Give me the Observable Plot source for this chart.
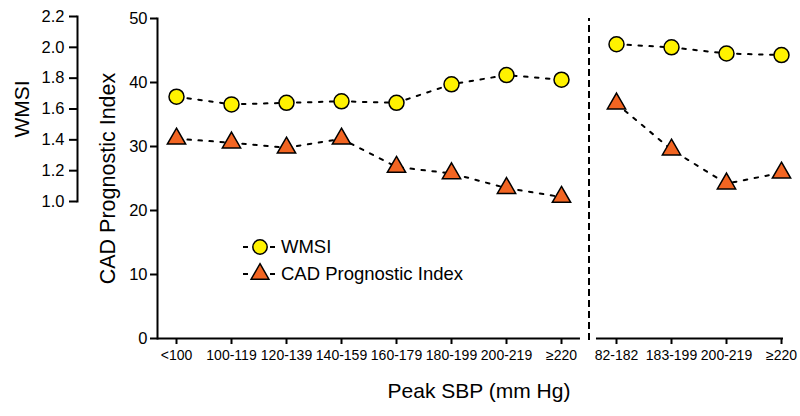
<!DOCTYPE html>
<html>
<head>
<meta charset="utf-8">
<script src="https://cdn.jsdelivr.net/npm/d3@7"></script>
<script src="https://cdn.jsdelivr.net/npm/@observablehq/plot@0.6"></script>
<style>
  html, body { margin: 0; padding: 0; background: #fff; }
  #wrap { position: relative; width: 800px; height: 416px; font-family: "Liberation Sans", Arial, sans-serif; }
  #wrap svg { position: absolute; top: 0; left: 0; }
</style>
</head>
<body>
<div id="wrap"></div>
<script>
// ---- data ----
const categories = ["<100", "100-119", "120-139", "140-159", "160-179", "180-199", "200-219", "≥220",
                    "82-182", "183-199", "200-219", "≥220"];
const panel = [1, 1, 1, 1, 1, 1, 1, 1, 2, 2, 2, 2];
const wmsi = [1.68, 1.63, 1.64, 1.65, 1.64, 1.76, 1.82, 1.79, 2.02, 2.00, 1.96, 1.95];
const cad  = [31.2, 30.6, 29.8, 31.2, 26.8, 25.8, 23.5, 22.1, 36.7, 29.5, 24.2, 25.9];
const cadTicks = [0, 10, 20, 30, 40, 50];
const wmsiTicks = [1.0, 1.2, 1.4, 1.6, 1.8, 2.0, 2.2];
const seriesNames = ["WMSI", "CAD Prognostic Index"];
const xTitle = "Peak SBP (mm Hg)";

const yellow = "#fff200";
const orange = "#f26522";
const font = "Liberation Sans, Arial, sans-serif";

const rows = categories.map((c, i) => ({i, cat: c, panel: panel[i], wmsi: wmsi[i], cad: cad[i]}));
const idx = d3.range(categories.length);
// baseline segments (in category-index units) and panel separator
const baseFrom = [-0.345, 7.636];
const baseTo = [7.345, 11.036];
const separator = [7.5];

const xDomain = [0, categories.length - 1];
const xRange = [176, 781];

// ---- CAD plot (main) ----
const plotA = Plot.plot({
  width: 800, height: 416,
  marginLeft: 157, marginRight: 0, marginTop: 18, marginBottom: 78,
  x: {domain: xDomain, range: xRange, label: null},
  y: {domain: [0, 50], label: null},
  style: {fontFamily: font, fontSize: "16px", background: "transparent", overflow: "visible", color: "#000"},
  marks: [
    Plot.frame({anchor: "left", strokeWidth: 2}),
    Plot.axisY({ticks: cadTicks, tickSize: 7, tickPadding: 3, strokeWidth: 2, label: null}),
    Plot.ruleY([0, 0], {x1: baseFrom, x2: baseTo, strokeWidth: 2}),
    Plot.axisX({ticks: idx, tickFormat: i => categories[i], tickSize: 6, tickPadding: 6, strokeWidth: 2, label: null}),
    Plot.ruleX(separator, {y1: -0.3, y2: 50, strokeWidth: 2, strokeDasharray: "7,4"}),
    Plot.line(rows, {x: "i", y: "cad", z: "panel", stroke: "#000", strokeWidth: 2, strokeDasharray: "3.5,7.5"}),
    Plot.dot(rows, {x: "i", y: "cad", symbol: "triangle", r: 6.8, fill: orange, stroke: "#000", strokeWidth: 1.5}),
    Plot.text([seriesNames[1]], {frameAnchor: "left", textAnchor: "middle", rotate: -90, dx: -49, fontSize: 21.5}),
    Plot.text([xTitle], {frameAnchor: "bottom", textAnchor: "middle", dy: 59, fontSize: 21})
  ]
});

// ---- WMSI plot (overlay, own axis) ----
const plotB = Plot.plot({
  width: 800, height: 416,
  marginLeft: 77, marginRight: 0, marginTop: 16, marginBottom: 215,
  x: {domain: xDomain, range: xRange, axis: null, label: null},
  y: {domain: [1.0, 2.2], label: null},
  style: {fontFamily: font, fontSize: "16px", background: "transparent", overflow: "visible", color: "#000"},
  marks: [
    Plot.frame({anchor: "left", strokeWidth: 2}),
    Plot.axisY({ticks: wmsiTicks, tickFormat: d3.format(".1f"), tickSize: 8, tickPadding: 5, strokeWidth: 2, label: null}),
    Plot.line(rows, {x: "i", y: "wmsi", z: "panel", stroke: "#000", strokeWidth: 2, strokeDasharray: "3.5,7.5"}),
    Plot.dot(rows, {x: "i", y: "wmsi", r: 7.5, fill: yellow, stroke: "#000", strokeWidth: 1.5}),
    Plot.text([seriesNames[0]], {frameAnchor: "left", textAnchor: "middle", rotate: -90, dx: -55, fontSize: 21})
  ]
});

const wrap = document.getElementById("wrap");
wrap.appendChild(plotA);
wrap.appendChild(plotB);

// tick label sizes
d3.selectAll('#wrap g[aria-label="y-axis tick label"]').style("font-size", "16.5px");
d3.selectAll('#wrap g[aria-label="x-axis tick label"]').style("font-size", "14px");

// ---- legend ----
const leg = d3.select(wrap).append("svg")
  .attr("width", 240).attr("height", 60)
  .style("left", "236px").style("top", "232px");
const items = leg.selectAll("g").data(seriesNames).join("g")
  .attr("transform", (d, k) => `translate(24,${15 + k * 27})`);
items.append("line").attr("x1", -17).attr("x2", 15).attr("y1", 0).attr("y2", 0)
  .attr("stroke", "#000").attr("stroke-width", 2).attr("stroke-dasharray", "5,22");
items.each(function(d, k) {
  const g = d3.select(this);
  if (k === 0) {
    g.append("circle").attr("r", 7.2).attr("fill", yellow).attr("stroke", "#000").attr("stroke-width", 1.5);
  } else {
    g.append("path").attr("d", d3.symbol(d3.symbolTriangle, Math.PI * 6.6 * 6.6)()).attr("fill", orange).attr("stroke", "#000").attr("stroke-width", 1.5);
  }
});
items.append("text").attr("x", 21).attr("y", 0).attr("dy", "0.35em")
  .attr("font-family", font).attr("font-size", 18.5).text(d => d);
</script>
</body>
</html>
